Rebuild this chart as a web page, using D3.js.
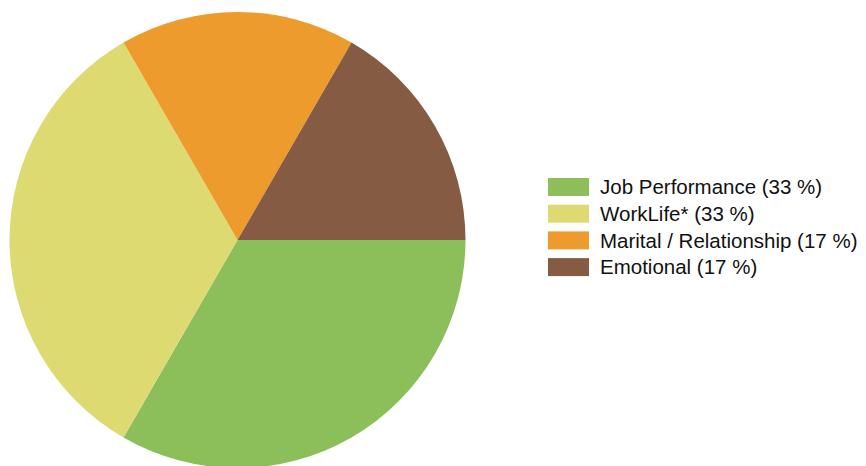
<!DOCTYPE html>
<html>
<head>
<meta charset="utf-8">
<script src="https://cdn.jsdelivr.net/npm/d3@7"></script>
<style>
  html, body { margin: 0; padding: 0; background: #fff; }
  svg { display: block; }
</style>
</head>
<body>
<svg id="chart" width="866" height="466"></svg>
<script>
// Categories and their counts
const categories = ["Job Performance", "WorkLife*", "Marital / Relationship", "Emotional"];
const counts = [2, 2, 1, 1];
const colors = ["#8CBF5A", "#DEDA72", "#EE9B2E", "#855C43"];

const data = categories.map((c, i) => ({ name: c, value: counts[i], color: colors[i] }));
const total = d3.sum(counts);

const svg = d3.select("#chart");
const cx = 237.5, cy = 240, radius = 228;

// Start at 3 o'clock and go clockwise
const pie = d3.pie()
  .value(d => d.value)
  .sort(null)
  .startAngle(Math.PI / 2)
  .endAngle(Math.PI / 2 + 2 * Math.PI);

const arc = d3.arc().innerRadius(0).outerRadius(radius);

svg.append("g")
  .attr("transform", `translate(${cx},${cy})`)
  .selectAll("path")
  .data(pie(data))
  .join("path")
  .attr("d", arc)
  .attr("fill", d => d.data.color);

// Legend
const legend = svg.append("g").attr("transform", "translate(548,178)");
const rowH = 26.7;
const rows = legend.selectAll("g")
  .data(data)
  .join("g")
  .attr("transform", (d, i) => `translate(0,${i * rowH})`);

rows.append("rect")
  .attr("width", 41)
  .attr("height", 18)
  .attr("fill", d => d.color);

rows.append("text")
  .attr("x", 52)
  .attr("y", 9)
  .attr("dy", "0.35em")
  .attr("font-family", "Liberation Sans, Arial, sans-serif")
  .attr("font-size", 20.5)
  .attr("fill", "#111")
  .text(d => `${d.name} (${Math.round(d.value / total * 100)} %)`);
</script>
</body>
</html>
